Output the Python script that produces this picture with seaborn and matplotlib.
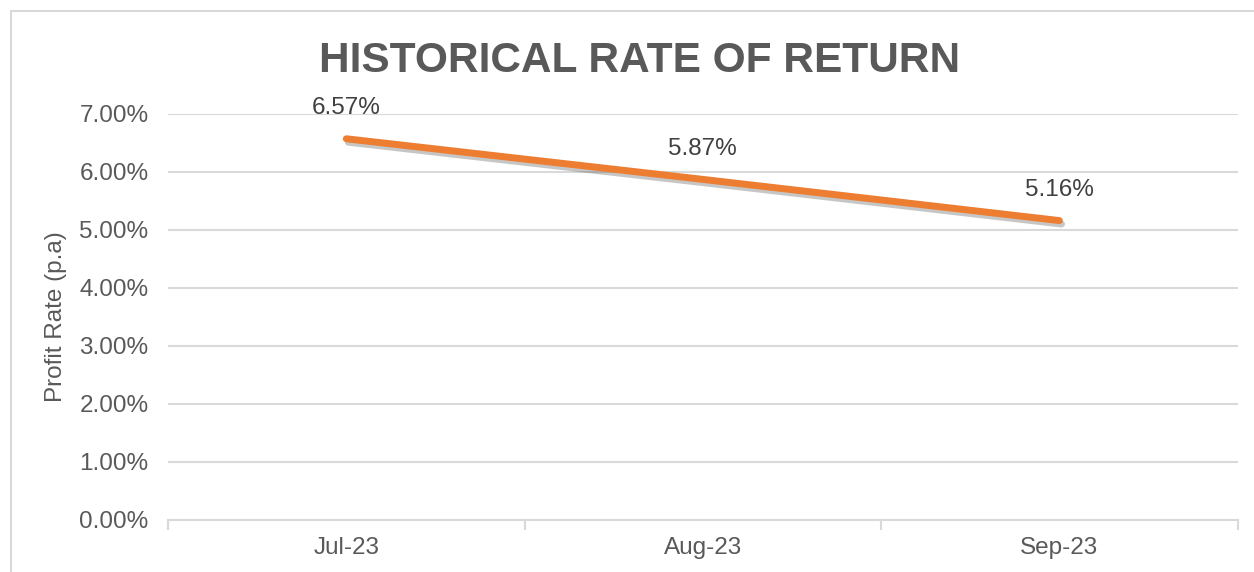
import seaborn as sns
import matplotlib.pyplot as plt
import matplotlib.patheffects as pe
from matplotlib.patches import Rectangle
from matplotlib.ticker import FuncFormatter, FixedLocator
import pandas as pd

months = ["Jul-23", "Aug-23", "Sep-23"]
rates = [6.57, 5.87, 5.16]

dane = pd.DataFrame({"month": months, "rate": rates})

sns.set_style("white")
plt.rcParams["font.family"] = ["Liberation Sans", "DejaVu Sans"]
grey = "#595959"
light = "#D9D9D9"

fig = plt.figure(figsize=(12.54, 5.72), dpi=100)
ax = fig.add_axes([0.134, 0.091, 0.853, 0.710])

# chart frame like excel
fig.patches.append(Rectangle((11 / 1254, -0.1), 1.2, 1 - 11 / 572 + 0.1,
                             transform=fig.transFigure, fill=False,
                             edgecolor=light, linewidth=1.5))

sns.lineplot(data=dane, x="month", y="rate", sort=False, ax=ax,
             color="#ED7D31", linewidth=5, solid_capstyle="round",
             path_effects=[pe.SimpleLineShadow(offset=(1.5, -2.5), alpha=0.3, shadow_color="#444444"),
                           pe.Normal()])

for i, r in enumerate(rates):
    ax.annotate(f"{r:.2f}%", (i, r), xytext=(0, 22), textcoords="offset points",
                ha="center", va="center", fontsize=17.5, color="#404040")

ax.set_xlim(-0.5, 2.5)
ax.set_ylim(0, 7)
ax.set_yticks(range(0, 8))
ax.yaxis.set_major_formatter(FuncFormatter(lambda v, p: f"{v:.2f}%"))
ax.grid(axis="y", color=light, linewidth=1.5)
ax.set_axisbelow(True)

for s in ["top", "right", "left"]:
    ax.spines[s].set_visible(False)
ax.spines["bottom"].set_color(light)
ax.spines["bottom"].set_linewidth(1.5)

ax.xaxis.set_minor_locator(FixedLocator([-0.5, 0.5, 1.5, 2.5]))
ax.tick_params(axis="x", which="major", bottom=False, length=0, pad=12, labelsize=17.5, labelcolor=grey)
ax.tick_params(axis="x", which="minor", bottom=True, length=7, width=1.5, color=light)
ax.tick_params(axis="y", length=0, pad=14, labelsize=17.5, labelcolor=grey)

ax.set_xlabel("")
ax.set_ylabel("Profit Rate (p.a)", fontsize=17.5, color=grey)
ax.yaxis.set_label_coords(-0.094, 0.5)

fig.text(0.51, 1 - 72 / 572, "HISTORICAL RATE OF RETURN", ha="center", va="baseline",
         fontsize=30.5, fontweight="bold", color=grey)

plt.savefig("out.png", dpi=100)
